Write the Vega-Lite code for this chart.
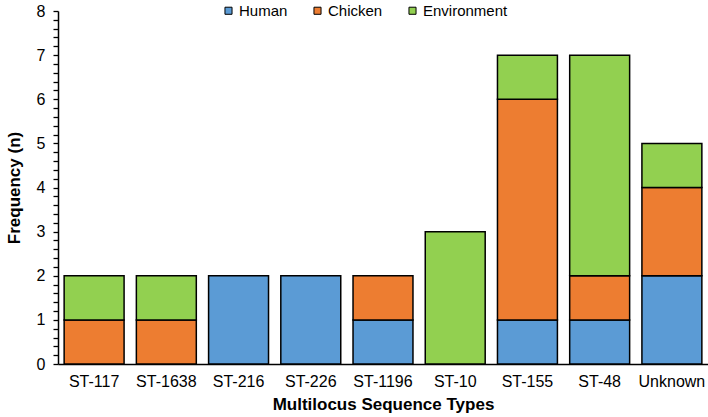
{
  "$schema": "https://vega.github.io/schema/vega-lite/v6.json",
  "width": 650,
  "height": 353,
  "autosize": {"type": "none"},
  "padding": {"left": 58, "top": 11, "right": 0, "bottom": 53},
  "config": {
    "font": "Liberation Sans",
    "view": {"stroke": null},
    "axis": {"grid": false, "domainColor": "black", "labelColor": "black", "titleColor": "black", "labelFont": "Liberation Sans", "titleFont": "Liberation Sans"}
  },
  "data": {
    "values": [
      {"st": "ST-117", "source": "Chicken", "n": 1},
      {"st": "ST-117", "source": "Environment", "n": 1},
      {"st": "ST-1638", "source": "Chicken", "n": 1},
      {"st": "ST-1638", "source": "Environment", "n": 1},
      {"st": "ST-216", "source": "Human", "n": 2},
      {"st": "ST-226", "source": "Human", "n": 2},
      {"st": "ST-1196", "source": "Human", "n": 1},
      {"st": "ST-1196", "source": "Chicken", "n": 1},
      {"st": "ST-10", "source": "Environment", "n": 3},
      {"st": "ST-155", "source": "Human", "n": 1},
      {"st": "ST-155", "source": "Chicken", "n": 5},
      {"st": "ST-155", "source": "Environment", "n": 1},
      {"st": "ST-48", "source": "Human", "n": 1},
      {"st": "ST-48", "source": "Chicken", "n": 1},
      {"st": "ST-48", "source": "Environment", "n": 5},
      {"st": "Unknown", "source": "Human", "n": 2},
      {"st": "Unknown", "source": "Chicken", "n": 2},
      {"st": "Unknown", "source": "Environment", "n": 1}
    ]
  },
  "transform": [
    {"calculate": "indexof(['Human','Chicken','Environment'], datum.source)", "as": "ord"}
  ],
  "mark": {"type": "bar", "stroke": "black", "strokeWidth": 1.5},
  "encoding": {
    "x": {
      "field": "st", "type": "nominal",
      "sort": ["ST-117", "ST-1638", "ST-216", "ST-226", "ST-1196", "ST-10", "ST-155", "ST-48", "Unknown"],
      "scale": {"paddingInner": 0.17, "paddingOuter": 0.085},
      "axis": {"title": "Multilocus Sequence Types", "labelAngle": 0, "ticks": false, "labelFontSize": 16, "labelPadding": 9, "titleFontSize": 17, "titleFontWeight": "bold", "titlePadding": 7, "domainWidth": 1.5}
    },
    "y": {
      "field": "n", "type": "quantitative", "aggregate": "sum", "stack": "zero",
      "scale": {"domain": [0, 8], "nice": false},
      "axis": {
        "title": "Frequency (n)",
        "values": [0,0.2,0.4,0.6,0.8,1,1.2,1.4,1.6,1.8,2,2.2,2.4,2.6,2.8,3,3.2,3.4,3.6,3.8,4,4.2,4.4,4.6,4.8,5,5.2,5.4,5.6,5.8,6,6.2,6.4,6.6,6.8,7,7.2,7.4,7.6,7.8,8],
        "labelExpr": "abs(datum.value - round(datum.value)) < 0.01 ? format(round(datum.value), 'd') : ''",
        "labelOverlap": false,
        "labelFontSize": 16,
        "labelPadding": 8,
        "ticks": true,
        "tickSize": 5,
        "tickWidth": 1.3,
        "tickColor": "black",
        "domainWidth": 1.5,
        "titleFontSize": 17,
        "titleFontWeight": "bold",
        "titlePadding": 13
      }
    },
    "color": {
      "field": "source", "type": "nominal",
      "sort": ["Human", "Chicken", "Environment"],
      "scale": {"domain": ["Human", "Chicken", "Environment"], "range": ["#5B9BD5", "#ED7D31", "#92D050"]},
      "legend": {
        "title": null, "orient": "none", "direction": "horizontal",
        "legendX": 163, "legendY": -8,
        "symbolType": "square", "symbolSize": 50, "symbolStrokeColor": "black", "symbolStrokeWidth": 1,
        "labelFontSize": 15, "labelColor": "black", "labelOffset": 3, "columnPadding": 22
      }
    },
    "order": {"field": "ord", "type": "quantitative"}
  }
}
